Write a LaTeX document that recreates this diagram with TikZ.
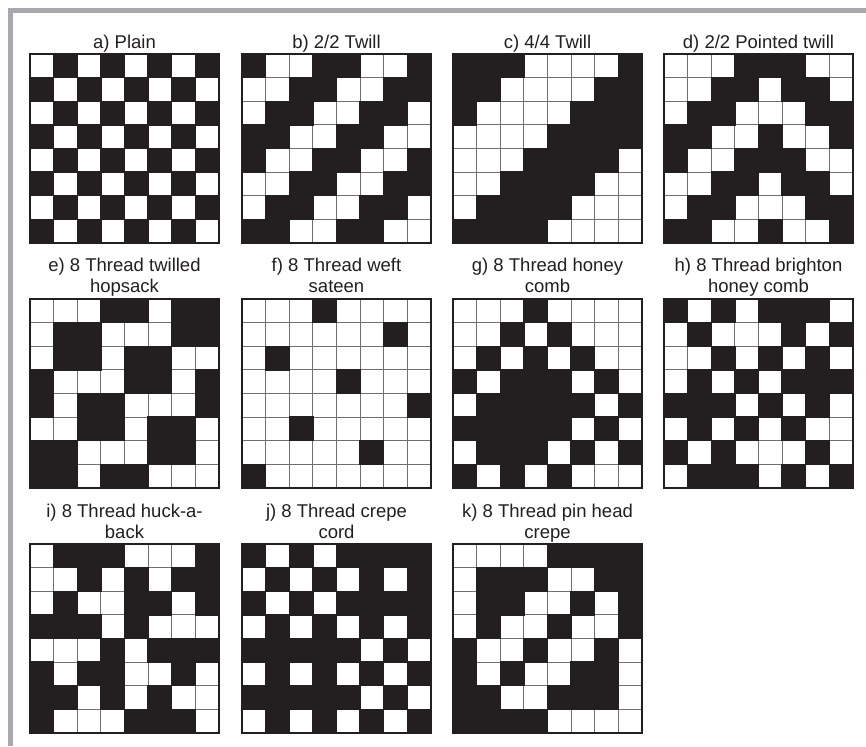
\documentclass[tikz,border=0pt]{standalone}
\usepackage{fontspec}
\setmainfont{Liberation Sans}
\definecolor{cellblk}{HTML}{231F20}
\definecolor{gridgray}{HTML}{707070}
\definecolor{framegray}{HTML}{A7A9AC}
\tikzset{
  gridline/.style={draw=gridgray, line width=1.2pt},
  gridouter/.style={draw=cellblk, line width=2pt},
  blackcell/.style={fill=cellblk},
  lab/.style={font=\fontsize{18.5}{21}\selectfont, text=cellblk, anchor=base, align=center, inner sep=0pt},
  framebar/.style={draw=framegray, line width=5pt}
}
\newcommand\weavegrid[3]{%
  \begin{scope}[shift={(#1,#2)}]
    \fill[white] (0,0) rectangle (189,189);
    \foreach \i in {1,...,7} {
      \draw[gridline] (\i*23.625,0) -- (\i*23.625,189);
      \draw[gridline] (0,\i*23.625) -- (189,\i*23.625);
    }
    \foreach \row [count=\r from 0] in {#3} {
      \foreach \v [count=\c from 0] in \row {
        \ifnum\v=1 \fill[blackcell] (\c*23.625-0.7,\r*23.625-0.7) rectangle ++(25.025,25.025);\fi
      }
    }
    \draw[gridouter] (0,0) rectangle (189,189);
  \end{scope}}
\begin{document}
\begin{tikzpicture}[x=1pt,y=-1pt]
\useasboundingbox (0,0) rectangle (866,746);
\fill[white] (0,0) rectangle (866,746);
\draw[framebar] (10,746) -- (10,10.5) -- (866,10.5);

% row 1
\weavegrid{30}{54}{{0,1,0,1,0,1,0,1},{1,0,1,0,1,0,1,0},{0,1,0,1,0,1,0,1},{1,0,1,0,1,0,1,0},{0,1,0,1,0,1,0,1},{1,0,1,0,1,0,1,0},{0,1,0,1,0,1,0,1},{1,0,1,0,1,0,1,0}}
\weavegrid{242}{54}{{1,0,0,1,1,0,0,1},{0,0,1,1,0,0,1,1},{0,1,1,0,0,1,1,0},{1,1,0,0,1,1,0,0},{1,0,0,1,1,0,0,1},{0,0,1,1,0,0,1,1},{0,1,1,0,0,1,1,0},{1,1,0,0,1,1,0,0}}
\weavegrid{453}{54}{{1,1,1,0,0,0,0,1},{1,1,0,0,0,0,1,1},{1,0,0,0,0,1,1,1},{0,0,0,0,1,1,1,1},{0,0,0,1,1,1,1,0},{0,0,1,1,1,1,0,0},{0,1,1,1,1,0,0,0},{1,1,1,1,0,0,0,0}}
\weavegrid{664}{54}{{0,0,0,1,1,1,0,0},{0,0,1,1,0,1,1,0},{0,1,1,0,0,0,1,1},{1,1,0,0,1,0,0,1},{1,0,0,1,1,1,0,0},{0,0,1,1,0,1,1,0},{0,1,1,0,0,0,1,1},{1,1,0,0,1,0,0,1}}

% row 2
\weavegrid{30}{299}{{0,0,0,1,1,0,1,1},{0,1,1,0,0,0,1,1},{0,1,1,0,1,1,0,0},{1,0,0,0,1,1,0,1},{1,0,1,1,0,0,0,1},{0,0,1,1,0,1,1,0},{1,1,0,0,0,1,1,0},{1,1,0,1,1,0,0,0}}
\weavegrid{242}{299}{{0,0,0,1,0,0,0,0},{0,0,0,0,0,0,1,0},{0,1,0,0,0,0,0,0},{0,0,0,0,1,0,0,0},{0,0,0,0,0,0,0,1},{0,0,1,0,0,0,0,0},{0,0,0,0,0,1,0,0},{1,0,0,0,0,0,0,0}}
\weavegrid{453}{299}{{0,0,0,1,0,0,0,0},{0,0,1,0,1,0,0,0},{0,1,0,1,0,1,0,0},{1,0,1,1,1,0,1,0},{0,1,1,1,1,1,0,1},{1,1,1,1,1,0,1,0},{0,1,1,1,0,1,0,1},{1,0,1,0,1,0,0,0}}
\weavegrid{664}{299}{{1,0,1,0,1,1,1,0},{0,1,0,0,0,1,0,1},{0,0,1,0,1,0,1,0},{0,1,0,1,0,1,1,1},{1,1,1,0,1,0,1,0},{0,1,0,1,0,1,0,0},{1,0,1,0,0,0,1,0},{0,1,1,1,0,1,0,1}}

% row 3
\weavegrid{30}{544}{{0,1,1,1,0,0,0,1},{0,0,1,0,1,0,1,1},{0,1,0,0,1,1,0,1},{1,1,1,0,1,0,0,0},{0,0,0,1,0,1,1,1},{1,0,1,1,0,0,1,0},{1,1,0,1,0,1,0,0},{1,0,0,0,1,1,1,0}}
\weavegrid{242}{544}{{1,0,1,0,1,1,1,1},{0,1,0,1,0,1,0,1},{1,0,1,0,1,1,1,1},{0,1,0,1,0,1,0,1},{1,1,1,1,1,0,1,0},{0,1,0,1,0,1,0,1},{1,1,1,1,1,0,1,0},{0,1,0,1,0,1,0,1}}
\weavegrid{453}{544}{{0,0,0,0,1,1,1,1},{0,1,1,1,0,0,1,1},{0,1,1,0,0,1,0,1},{0,1,0,0,1,0,0,1},{1,0,0,1,0,0,1,0},{1,0,1,0,0,1,1,0},{1,1,0,0,1,1,1,0},{1,1,1,1,0,0,0,0}}

% labels
\node[lab] (la) at (124.5,49) {a) Plain};
\node[lab] (lb) at (336.5,49) {b) 2/2 Twill};
\node[lab] (lc) at (547.5,49) {c) 4/4 Twill};
\node[lab] (ld) at (758.5,49) {d) 2/2 Pointed twill};
\node[lab] (le) at (124.5,292) {e) 8 Thread twilled\\hopsack};
\node[lab] (lf) at (336.5,292) {f) 8 Thread weft\\sateen};
\node[lab] (lg) at (547.5,292) {g) 8 Thread honey\\comb};
\node[lab] (lh) at (758.5,292) {h) 8 Thread brighton\\honey comb};
\node[lab] (li) at (124.5,538) {i) 8 Thread huck-a-\\back};
\node[lab] (lj) at (336.5,538) {j) 8 Thread crepe\\cord};
\node[lab] (lk) at (547.5,538) {k) 8 Thread pin head\\crepe};
\end{tikzpicture}
\end{document}
